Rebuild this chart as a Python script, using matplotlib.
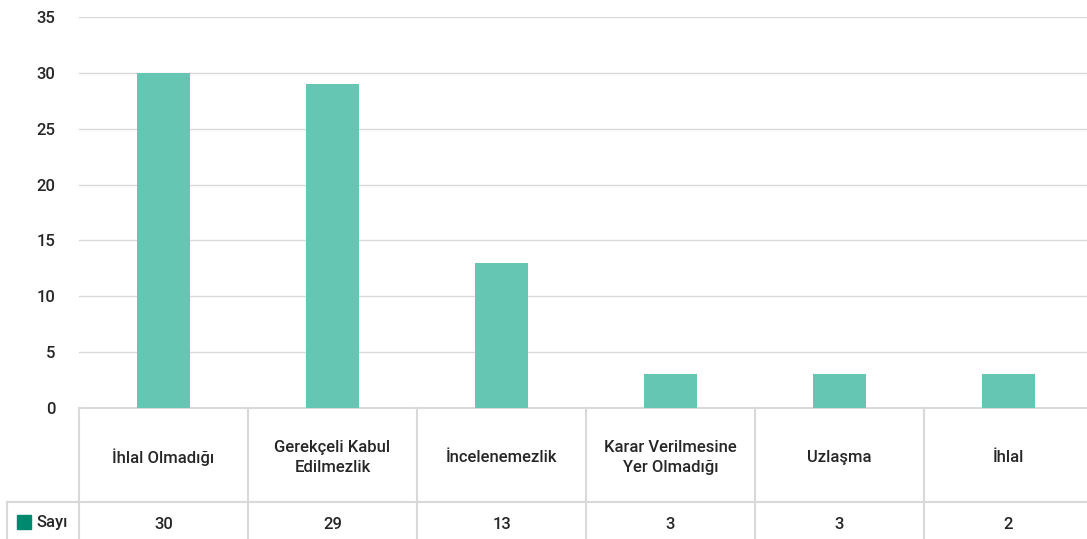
import matplotlib
matplotlib.use("Agg")
import matplotlib.pyplot as plt
import matplotlib.transforms as mtransforms
from matplotlib.patches import Rectangle
import numpy as np

# data
categories = ["İhlal Olmadığı", "Gerekçeli Kabul\nEdilmezlik", "İncelenemezlik",
              "Karar Verilmesine\nYer Olmadığı", "Uzlaşma", "İhlal"]
bar_values = [30, 29, 13, 3, 3, 3]
table_values = [30, 29, 13, 3, 3, 2]
series_name = "Sayı"
y_ticks = [0, 5, 10, 15, 20, 25, 30, 35]

bar_color = "#66c6b4"
key_color = "#00896f"
line_color = "#d9d9d9"
text_color = "#262626"

plt.rcParams['font.family'] = ['Roboto', 'DejaVu Sans']
fs = 12
fw = 'medium'

W, H = 1087, 539
fig = plt.figure(figsize=(W / 100, H / 100), dpi=100)
ax = fig.add_axes([79 / W, 131 / H, 1014 / W, 391 / H])

x = np.arange(len(categories))
ax.bar(x, bar_values, width=0.31, color=bar_color, zorder=3)
ax.set_xlim(-0.5, len(categories) - 0.5)
ax.set_ylim(0, 35)
ax.set_yticks(y_ticks)
ax.set_yticklabels([str(v) for v in y_ticks], fontsize=fs, color=text_color, fontweight=fw)
ax.tick_params(axis='y', length=0, pad=17)
ax.set_xticks([])
ax.grid(axis='y', color=line_color, linewidth=1, zorder=0)
for s in ax.spines.values():
    s.set_visible(False)

# table under the plot
tr = mtransforms.blended_transform_factory(ax.transData, ax.transAxes)
row1 = -94 / 391
row2 = -131 / 391
lk = dict(color=line_color, linewidth=1.5, clip_on=False, transform=tr)
ax.plot([-0.5, len(categories) - 0.5], [0, 0], **lk)
for i in range(len(categories) + 1):
    ax.plot([i - 0.5, i - 0.5], [0, row2], **lk)
left_x = -0.5 - 72 / 169
ax.plot([left_x, len(categories) - 0.5], [row1, row1], **lk)
ax.plot([left_x, left_x], [row1, row2], **lk)

for i, (c, v) in enumerate(zip(categories, table_values)):
    ax.text(i, row1 / 2 - 0.006, c, transform=tr, ha='center', va='center',
            fontsize=fs, color=text_color, linespacing=1.45, fontweight=fw)
    ax.text(i, (row1 + row2) / 2 - 0.01, str(v), transform=tr, ha='center', va='center',
            fontsize=fs, color=text_color, fontweight=fw)

# legend key in the row header
fig.patches.append(Rectangle((17 / W, (539 - 529) / H), 14 / W, 14 / H,
                             transform=fig.transFigure, color=key_color))
fig.text(36 / W, (539 - 523) / H, series_name, ha='left', va='center',
         fontsize=fs, color=text_color, fontweight=fw)

fig.savefig("out.png", dpi=100)
